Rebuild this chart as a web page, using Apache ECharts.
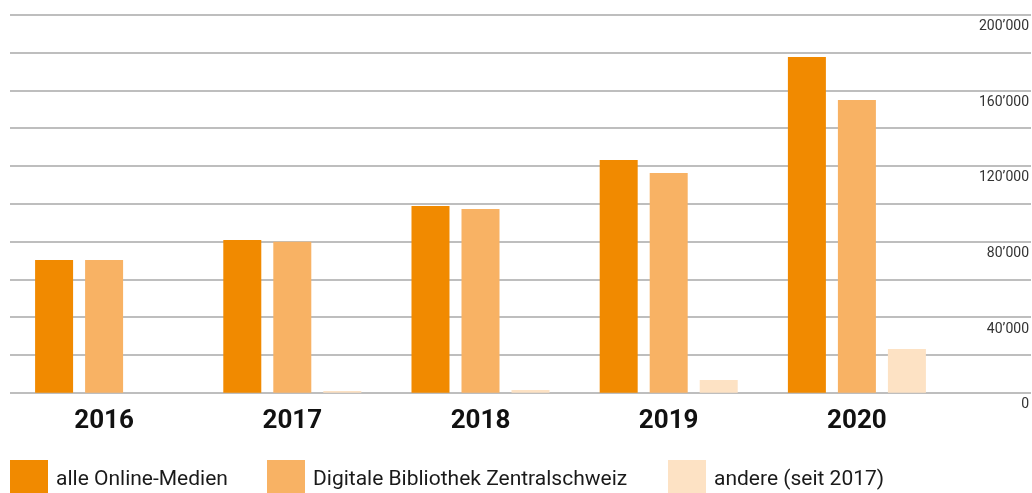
<!DOCTYPE html>
<html>
<head>
<meta charset="utf-8">
<script src="https://cdn.jsdelivr.net/npm/echarts@6/dist/echarts.min.js"></script>
<style>
  html, body { margin: 0; padding: 0; background: #fff; }
  #chart { width: 1032px; height: 493px; }
</style>
</head>
<body>
<div id="chart"></div>
<script>
var years = ['2016', '2017', '2018', '2019', '2020'];
var alleOnline = [70200, 80800, 98800, 123100, 177600];
var digitale = [70200, 79900, 97200, 116200, 154900];
var andere = ['-', 900, 1400, 6700, 23100];
var seriesNames = ['alle Online-Medien', 'Digitale Bibliothek Zentralschweiz', 'andere (seit 2017)'];
var colors = ['#f18a00', '#f8b264', '#fde2c4'];

var myChart = echarts.init(document.getElementById('chart'));

function fmt(v) {
    if (v % 40000 !== 0) return '';
    if (v === 0) return '0';
    var s = String(v);
    return s.slice(0, s.length - 3) + '\u2019' + s.slice(-3);
}

function legendAt(i, left) {
    return {
        data: [seriesNames[i]],
        left: left,
        top: 460,
        itemWidth: 38,
        itemHeight: 40,
        icon: 'rect',
        padding: 0,
        selectedMode: false,
        textStyle: {
            fontFamily: 'Roboto',
            fontSize: 21,
            color: '#1a1a1a',
            padding: [3, 0, 0, 3]
        }
    };
}

var option = {
    animation: false,
    color: colors,
    legend: [legendAt(0, 10), legendAt(1, 267), legendAt(2, 668)],
    grid: [
        { left: 10, right: 81, top: 14.7, bottom: 100.3 },
        { left: 10, right: 0, top: 14.7, bottom: 100.3 }
    ],
    xAxis: [
        {
            type: 'category',
            gridIndex: 0,
            data: years,
            axisLine: { show: false },
            axisTick: { show: false },
            axisLabel: {
                margin: 16,
                fontFamily: 'Roboto',
                fontWeight: 'bold',
                fontSize: 26,
                color: '#111'
            }
        },
        {
            type: 'value',
            gridIndex: 1,
            show: false
        }
    ],
    yAxis: [
        {
            type: 'value',
            gridIndex: 0,
            min: 0,
            max: 200000,
            interval: 20000,
            show: false,
            splitLine: { show: false }
        },
        {
            type: 'value',
            gridIndex: 1,
            position: 'right',
            min: 0,
            max: 200000,
            interval: 20000,
            axisLine: { show: false },
            axisTick: { show: false },
            splitLine: { lineStyle: { color: '#a8a8a8', width: 1.5 } },
            axisLabel: {
                inside: true,
                margin: 2,
                verticalAlign: 'top',
                padding: [5, 0, 0, 0],
                fontFamily: 'Roboto',
                fontSize: 14,
                color: '#333',
                formatter: fmt
            }
        }
    ],
    series: [
        { name: seriesNames[0], type: 'bar', data: alleOnline, barWidth: 38, barGap: '31.6%' },
        { name: seriesNames[1], type: 'bar', data: digitale, barWidth: 38, barGap: '31.6%' },
        { name: seriesNames[2], type: 'bar', data: andere, barWidth: 38, barGap: '31.6%' }
    ]
};

myChart.setOption(option);
</script>
</body>
</html>
